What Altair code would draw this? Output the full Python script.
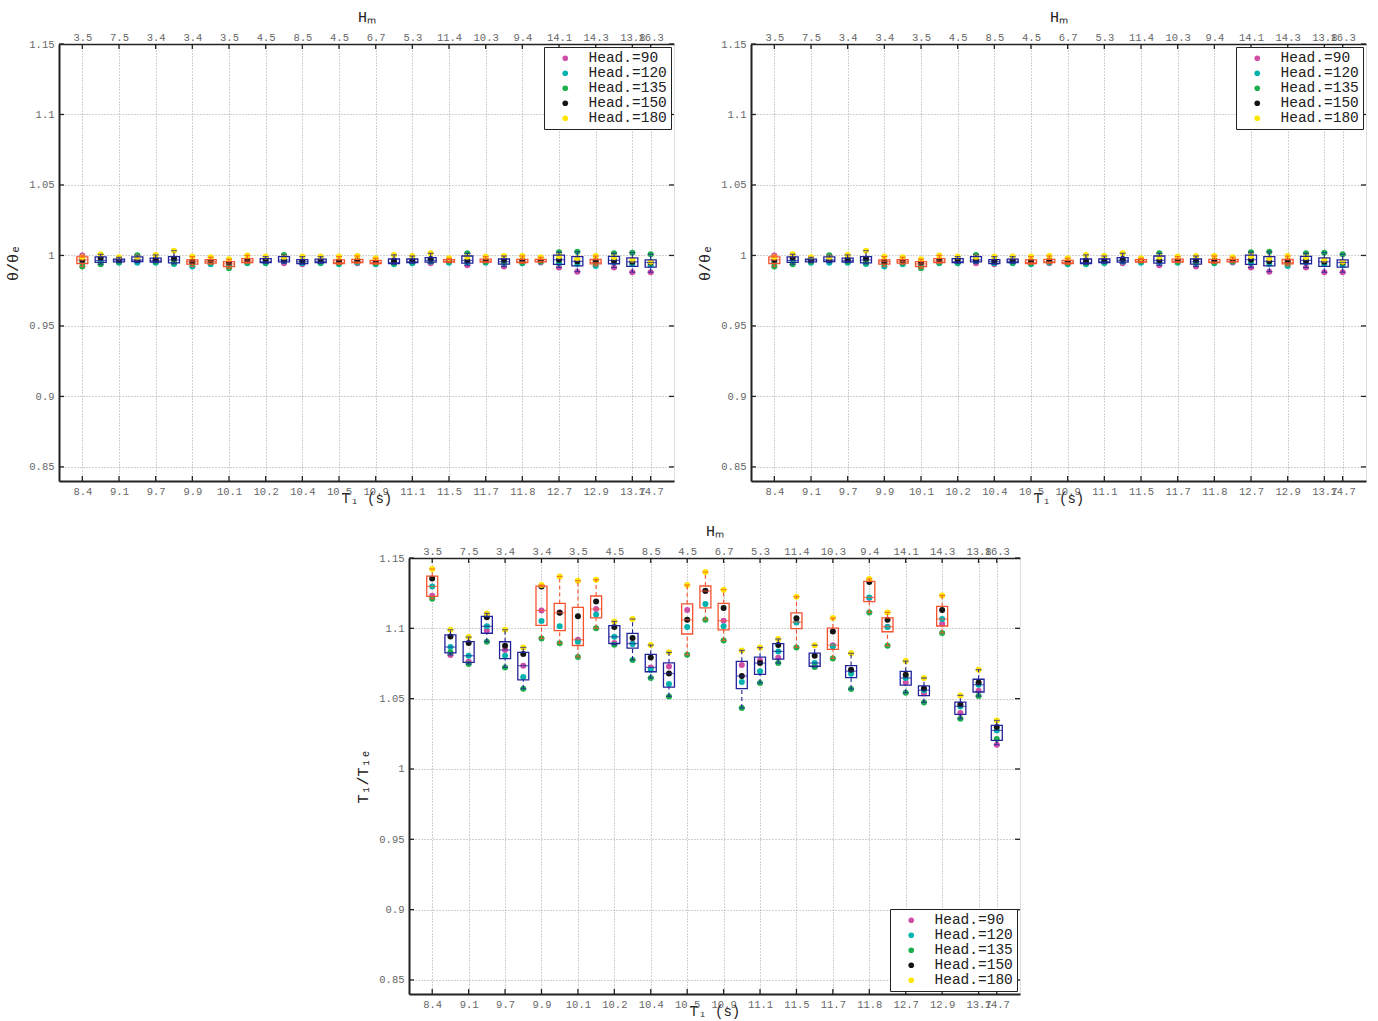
import altair as alt
import numpy as np
import pandas as pd

# ---------------- data ----------------
POSITIONS = [1.0, 1.5, 2.0, 2.5, 3.0, 3.5, 4.0, 4.5, 5.0, 5.5, 6.0, 6.5, 7.0, 7.5, 8.0, 8.5,
             9.0, 9.5, 10.0, 10.5, 11.0, 11.5, 12.0, 12.5, 13.0, 13.5, 14.0, 14.5, 15.0, 15.5, 16.0, 16.5]
TICK_POSITIONS = [1, 2, 3, 4, 5, 6, 7, 8, 9, 10, 11, 12, 13, 14, 15, 16, 16.5]
T1_LABELS = ["8.4", "9.1", "9.7", "9.9", "10.1", "10.2", "10.4", "10.5", "10.9", "11.1",
             "11.5", "11.7", "11.8", "12.7", "12.9", "13.7", "14.7"]
HM_LABELS = ["3.5", "7.5", "3.4", "3.4", "3.5", "4.5", "8.5", "4.5", "6.7", "5.3",
             "11.4", "10.3", "9.4", "14.1", "14.3", "13.8", "16.3"]
Y_TICKS = [0.85, 0.9, 0.95, 1.0, 1.05, 1.1, 1.15]
HEADINGS = ["Head.=90", "Head.=120", "Head.=135", "Head.=150", "Head.=180"]
HEAD_COLORS = ["#CF4FA6", "#00B3AE", "#1DAE4E", "#141414", "#FFE600"]
BOX_GROUP = ["r", "b", "b", "b", "b", "b", "r", "r", "r", "r", "b", "b", "b", "b", "r", "r",
             "r", "b", "b", "b", "r", "b", "r", "b", "r", "r", "b", "b", "r", "b", "b", "b"]
BOX_COLORS = {"r": "#F4532E", "b": "#22249A"}

# theta / theta_e  (one list per heading)
THETA_90 = [1.0000, 0.9965, 0.9970, 0.9960, 0.9962, 0.9968, 0.9960, 0.9958, 0.9940, 0.9960, 0.9955, 0.9944,
            0.9937, 0.9958, 0.9950, 0.9944, 0.9950, 0.9950, 0.9952, 0.9944, 0.9955, 0.9930, 0.9958, 0.9921,
            0.9955, 0.9950, 0.9914, 0.9885, 0.9950, 0.9914, 0.9881, 0.9881]
THETA_120 = [0.9950, 0.9956, 0.9949, 0.9949, 0.9949, 0.9940, 0.9921, 0.9937, 0.9926, 0.9944, 0.9944, 0.9958,
             0.9944, 0.9944, 0.9937, 0.9950, 0.9937, 0.9937, 0.9944, 0.9955, 0.9949, 0.9950, 0.9949, 0.9945,
             0.9944, 0.9955, 0.9944, 0.9940, 0.9926, 0.9950, 0.9937, 0.9930]
THETA_135 = [0.9921, 0.9938, 0.9956, 1.0002, 0.9955, 0.9950, 0.9945, 0.9948, 0.9909, 0.9950, 0.9952, 1.0004,
             0.9955, 0.9950, 0.9945, 0.9955, 0.9945, 0.9945, 0.9955, 0.9965, 0.9958, 1.0015, 0.9955, 0.9955,
             0.9950, 0.9958, 1.0023, 1.0026, 0.9945, 1.0015, 1.0020, 1.0008]
THETA_150 = [0.9968, 0.9984, 0.9968, 0.9968, 0.9973, 0.9978, 0.9956, 0.9965, 0.9950, 0.9970, 0.9973, 0.9968,
             0.9963, 0.9968, 0.9960, 0.9965, 0.9960, 0.9965, 0.9968, 0.9975, 0.9968, 0.9965, 0.9968, 0.9968,
             0.9965, 0.9968, 0.9970, 0.9958, 0.9963, 0.9965, 0.9955, 0.9950]
THETA_180 = [0.9987, 1.0008, 0.9987, 0.9985, 1.0004, 1.0034, 0.9992, 0.9987, 0.9973, 1.0000, 0.9992, 0.9987,
             0.9992, 0.9992, 0.9992, 0.9996, 0.9980, 1.0004, 0.9996, 1.0015, 0.9980, 0.9990, 0.9992, 0.9996,
             0.9996, 0.9987, 0.9996, 0.9980, 0.9996, 0.9987, 0.9970, 0.9955]

# T1 / T1e  (one list per heading)
T1_90 = [1.1232, 1.0810, 1.0762, 1.0985, 1.0846, 1.0734, 1.1127, 1.1113, 1.0919, 1.1137, 1.0895, 1.0892,
         1.0722, 1.0729, 1.1130, 1.1265, 1.1054, 1.0739, 1.0772, 1.0791, 1.1045, 1.0732, 1.0880, 1.0695,
         1.1215, 1.1012, 1.0615, 1.0537, 1.1033, 1.0398, 1.0557, 1.0172]
T1_120 = [1.1298, 1.0867, 1.0805, 1.1014, 1.0805, 1.0654, 1.1052, 1.1014, 1.0905, 1.1099, 1.0940, 1.0888,
          1.0706, 1.0604, 1.1009, 1.1173, 1.1014, 1.0618, 1.0694, 1.0836, 1.1042, 1.0753, 1.0871, 1.0677,
          1.1220, 1.1009, 1.0647, 1.0560, 1.1066, 1.0445, 1.0599, 1.0274]
T1_135 = [1.1210, 1.0830, 1.0746, 1.0905, 1.0722, 1.0570, 1.0928, 1.0893, 1.0796, 1.1000, 1.0883, 1.0775,
          1.0647, 1.0516, 1.0812, 1.1061, 1.0914, 1.0433, 1.0611, 1.0753, 1.0864, 1.0725, 1.0786, 1.0568,
          1.1113, 1.0876, 1.0542, 1.0473, 1.0967, 1.0357, 1.0518, 1.0213]
T1_150 = [1.1355, 1.0942, 1.0895, 1.1078, 1.0876, 1.0817, 1.1298, 1.1111, 1.1085, 1.1191, 1.1009, 1.0931,
          1.0793, 1.0679, 1.1061, 1.1268, 1.1144, 1.0661, 1.0753, 1.0881, 1.1071, 1.0805, 1.0978, 1.0706,
          1.1329, 1.1061, 1.0670, 1.0573, 1.1130, 1.0459, 1.0615, 1.0298]
T1_180 = [1.1422, 1.0990, 1.0938, 1.1106, 1.0990, 1.0864, 1.1308, 1.1369, 1.1339, 1.1346, 1.1049, 1.1066,
          1.0881, 1.0829, 1.1308, 1.1400, 1.1275, 1.0843, 1.0864, 1.0924, 1.1225, 1.0880, 1.1073, 1.0822,
          1.1351, 1.1113, 1.0767, 1.0647, 1.1234, 1.0523, 1.0706, 1.0345]

# ---------------- styling ----------------
MONO = "Liberation Mono"
LABEL_COLOR = "#666666"
GRID = dict(grid=True, gridDash=[1, 2], gridColor="#8a8a8a", gridWidth=0.8)


def panel(series, ytitle, legend_orient, w, h):
    rows = []
    for hi, (lab, arr) in enumerate(zip(HEADINGS, series)):
        for p, v in zip(POSITIONS, arr):
            rows.append({"pos": p, "value": v, "label": lab, "hidx": hi})
    pts = pd.DataFrame(rows)

    brows = []
    for i, p in enumerate(POSITIONS):
        vals = np.array([s[i] for s in series])
        q1 = float(np.percentile(vals, 25, method="hazen"))
        q3 = float(np.percentile(vals, 75, method="hazen"))
        med = float(np.median(vals))
        iqr = q3 - q1
        hi_v = float(vals[vals <= q3 + 1.5 * iqr].max())
        lo_v = float(vals[vals >= q1 - 1.5 * iqr].min())
        brows.append({"pos": p, "q1": q1, "q3": q3, "med": med, "lo": lo_v, "hi": hi_v,
                      "col": BOX_COLORS[BOX_GROUP[i]]})
    bx = pd.DataFrame(brows)

    xs = alt.Scale(domain=[0.5, 17], nice=False, zero=False)
    ys = alt.Scale(domain=[0.84, 1.15], nice=False, zero=False)

    bottom_axis = alt.Axis(
        orient="bottom", values=TICK_POSITIONS,
        labelExpr=f"{T1_LABELS}[indexof({TICK_POSITIONS}, datum.value)]",
        ticks=False, domain=True, domainColor="#222222", domainWidth=2,
        labelFont=MONO, labelFontSize=10.5, labelColor=LABEL_COLOR, labelPadding=5,
        labelOverlap=False, labelFlush=False,
        title="T₁ (s)", titleFont=MONO, titleFontSize=14, titleFontWeight="normal",
        titleColor="#222222", titlePadding=-5, **GRID)
    top_axis = alt.Axis(
        orient="top", values=TICK_POSITIONS,
        labelExpr=f"{HM_LABELS}[indexof({TICK_POSITIONS}, datum.value)]",
        ticks=False, grid=False, domain=True, domainColor="#222222", domainWidth=1.5,
        labelFont=MONO, labelFontSize=10.5, labelColor=LABEL_COLOR, labelPadding=2,
        labelOverlap=False, labelFlush=False,
        title="Hₘ", titleFont=MONO, titleFontSize=15, titleFontWeight="normal",
        titleColor="#222222", titlePadding=8)
    y_axis = alt.Axis(
        orient="left", values=Y_TICKS, format=".2~f", ticks=False, domain=True,
        domainColor="#222222", domainWidth=2, labelFont=MONO, labelFontSize=10.5,
        labelColor=LABEL_COLOR, labelPadding=5,
        title=ytitle, titleFont=MONO, titleFontSize=15, titleFontWeight="normal",
        titleColor="#222222", titlePadding=8, **GRID)

    legend = alt.Legend(
        orient=legend_orient, title=None, fillColor="white", strokeColor="#222222",
        padding=4, offset=3, labelFont=MONO, labelFontSize=14.5, labelColor="#222222",
        symbolType="circle", symbolSize=32, symbolStrokeWidth=0, rowPadding=0,
        labelOffset=16, symbolOffset=10)

    points = alt.Chart(pts).mark_circle(size=36, opacity=1).encode(
        x=alt.X("pos:Q", scale=xs, axis=bottom_axis),
        y=alt.Y("value:Q", scale=ys, axis=y_axis),
        color=alt.Color("label:N", scale=alt.Scale(domain=HEADINGS, range=HEAD_COLORS),
                        sort=HEADINGS, legend=legend),
        order=alt.Order("hidx:Q"),
    )

    bbase = alt.Chart(bx)
    box = bbase.mark_bar(width=11, fillOpacity=0, strokeWidth=1.3).encode(
        x=alt.X("pos:Q", scale=xs, axis=top_axis),
        y=alt.Y("q1:Q", scale=ys, axis=None), y2="q3:Q",
        stroke=alt.Stroke("col:N", scale=None),
    )
    med = bbase.mark_tick(orient="horizontal", size=11, thickness=1.2).encode(
        x=alt.X("pos:Q", scale=xs, axis=None),
        y=alt.Y("med:Q", scale=ys, axis=None),
        color=alt.Color("col:N", scale=None),
    )
    wup = bbase.mark_rule(strokeDash=[4, 3], strokeWidth=1.1).encode(
        x=alt.X("pos:Q", scale=xs, axis=None),
        y=alt.Y("q3:Q", scale=ys, axis=None), y2="hi:Q",
        color=alt.Color("col:N", scale=None),
    )
    wlo = bbase.mark_rule(strokeDash=[4, 3], strokeWidth=1.1).encode(
        x=alt.X("pos:Q", scale=xs, axis=None),
        y=alt.Y("lo:Q", scale=ys, axis=None), y2="q1:Q",
        color=alt.Color("col:N", scale=None),
    )
    cap_hi = bbase.mark_tick(orient="horizontal", size=6, thickness=1.2).encode(
        x=alt.X("pos:Q", scale=xs, axis=None),
        y=alt.Y("hi:Q", scale=ys, axis=None),
        color=alt.Color("col:N", scale=None),
    )
    cap_lo = bbase.mark_tick(orient="horizontal", size=6, thickness=1.2).encode(
        x=alt.X("pos:Q", scale=xs, axis=None),
        y=alt.Y("lo:Q", scale=ys, axis=None),
        color=alt.Color("col:N", scale=None),
    )

    # inward tick marks
    xt = alt.Chart(pd.DataFrame({"t": TICK_POSITIONS}))
    xt_top = xt.mark_rule(color="#222222", strokeWidth=1.3).encode(
        x=alt.X("t:Q", scale=xs, axis=None), y=alt.value(0), y2=alt.value(5))
    xt_bot = xt.mark_rule(color="#222222", strokeWidth=1.3).encode(
        x=alt.X("t:Q", scale=xs, axis=None), y=alt.value(h), y2=alt.value(h - 5))
    yt = alt.Chart(pd.DataFrame({"t": Y_TICKS}))
    yt_left = yt.mark_rule(color="#222222", strokeWidth=1.3).encode(
        y=alt.Y("t:Q", scale=ys, axis=None), x=alt.value(0), x2=alt.value(5))
    yt_right = yt.mark_rule(color="#222222", strokeWidth=1.3).encode(
        y=alt.Y("t:Q", scale=ys, axis=None), x=alt.value(w - 5), x2=alt.value(w))

    return alt.layer(points, wup, wlo, box, med, cap_hi, cap_lo,
                     xt_top, xt_bot, yt_left, yt_right).resolve_axis(
        x="independent", y="independent").resolve_scale(
        color="independent", stroke="independent").properties(width=w, height=h)


theta_series = [THETA_90, THETA_120, THETA_135, THETA_150, THETA_180]
t1_series = [T1_90, T1_120, T1_135, T1_150, T1_180]

left = panel(theta_series, "θ/θₑ", "top-right", 615, 437)
right = panel(theta_series, "θ/θₑ", "top-right", 615, 437)
bottom = panel(t1_series, "T₁/T₁ₑ", "bottom-right", 611, 436)

spacer = alt.Chart(pd.DataFrame({"a": [0]})).mark_point(opacity=0).encode(
    x=alt.X("a:Q", axis=None), y=alt.Y("a:Q", axis=None)
).properties(width=296, height=10, view=alt.ViewConfig(strokeOpacity=0))

top_row = alt.hconcat(left, right, spacing=21).resolve_scale(color="independent")
bottom_row = alt.hconcat(spacer, bottom, spacing=0).resolve_scale(color="independent")

chart = alt.vconcat(top_row, bottom_row, spacing=16).resolve_scale(
    color="independent"
).properties(padding={"left": 5, "top": 8, "right": 5, "bottom": 0}).configure_view(
    stroke="#222222", strokeWidth=1.5
).configure(background="white")

chart.save("out.html", embed_options={"renderer": "svg", "actions": False})
